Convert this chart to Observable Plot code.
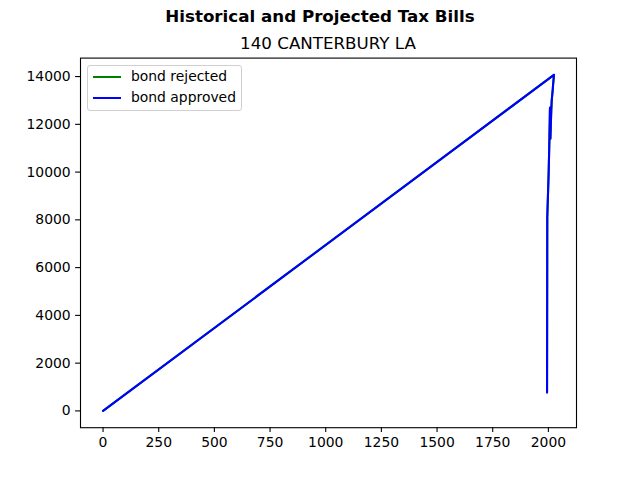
<!DOCTYPE html>
<html>
<head>
<meta charset="utf-8">
<script src="https://cdn.jsdelivr.net/npm/d3@7"></script>
<script src="https://cdn.jsdelivr.net/npm/@observablehq/plot@0.6"></script>
<style>
  html, body { margin: 0; padding: 0; background: #fff; }
  #wrap { position: relative; width: 640px; height: 480px; font-family: "DejaVu Sans", sans-serif; }
  #head { position: relative; width: 640px; height: 50px; }
  .sup { position: absolute; left: 0; width: 640px; top: 6px; text-align: center; font-weight: bold; font-size: 16.7px; line-height: 20px; }
  .sub { position: absolute; left: 80px; width: 496px; top: 33px; text-align: center; font-size: 16.7px; line-height: 20px; }
  #legend { position: absolute; left: 87px; top: 65px; width: 155px; height: 46px; border: 1px solid #d0d0d0; border-radius: 3px; background: rgba(255,255,255,0.8); box-sizing: border-box; font-size: 13.9px; }
  .row { position: absolute; left: 0; height: 18px; line-height: 18px; }
  .sw { position: absolute; left: 5px; top: 9px; width: 28px; height: 2px; }
  .lab { position: absolute; left: 43px; top: 0; white-space: nowrap; }
  svg { display: block; }
</style>
</head>
<body>
<div id="wrap">
  <div id="head">
    <div class="sup">Historical and Projected Tax Bills</div>
    <div class="sub">140 CANTERBURY LA</div>
  </div>
  <div id="chart"></div>
  <div id="legend">
    <div class="row" style="top:1px"><div class="sw" style="background:green"></div><div class="lab">bond rejected</div></div>
    <div class="row" style="top:22px"><div class="sw" style="background:blue"></div><div class="lab">bond approved</div></div>
  </div>
</div>
<script>
// Tax years (the series ends with a trailing 0 entry, as in the source)
const years = [1994, 1995, 1996, 1997, 1998, 1999, 2000, 2001, 2002, 2003, 2004, 2005, 2006, 2007, 2008, 2009,
  2010, 2011, 2012, 2013, 2014, 2015, 2016, 2017, 2018, 2019, 2020, 2021, 2022, 2023, 2024, 2025, 0];
const billsBondRejected = [770, 8100, 8400, 8700, 9000, 9300, 9600, 9900, 10300, 10700, 11100, 11600, 12100, 12650, 12700, 11400,
  11700, 12000, 12300, 12600, 12800, 13000, 13100, 13200, 13300, 13400, 13500, 13650, 13750, 13850, 13950, 14070, 0];
const billsBondApproved = [770, 8100, 8400, 8700, 9000, 9300, 9600, 9900, 10300, 10700, 11100, 11600, 12100, 12650, 12700, 11400,
  11700, 12000, 12300, 12600, 12800, 13000, 13100, 13200, 13300, 13400, 13500, 13650, 13750, 13850, 13950, 14070, 0];
const xTicks = [0, 250, 500, 750, 1000, 1250, 1500, 1750, 2000];
const yTicks = [0, 2000, 4000, 6000, 8000, 10000, 12000, 14000];

const rejected = years.map((y, i) => ({year: y, bill: billsBondRejected[i]}));
const approved = years.map((y, i) => ({year: y, bill: billsBondApproved[i]}));

const xmin = d3.min(years), xmax = d3.max(years);
const allY = billsBondRejected.concat(billsBondApproved);
const ymin = d3.min(allY), ymax = d3.max(allY);
const xpad = (xmax - xmin) * 0.05, ypad = (ymax - ymin) * 0.05;

const chart = Plot.plot({
  width: 640,
  height: 430,
  marginLeft: 80,
  marginRight: 64,
  marginTop: 7.6,
  marginBottom: 52.8,
  style: {fontFamily: "DejaVu Sans, sans-serif", fontSize: "13.9px", color: "black", background: "white"},
  x: {domain: [xmin - xpad, xmax + xpad]},
  y: {domain: [ymin - ypad, ymax + ypad]},
  marks: [
    Plot.line(rejected, {x: "year", y: "bill", stroke: "green", strokeWidth: 2.08}),
    Plot.line(approved, {x: "year", y: "bill", stroke: "blue", strokeWidth: 2.08}),
    Plot.axisX({ticks: xTicks, tickSize: 4.9, tickPadding: 4.9, label: null, tickFormat: d => String(d), fontSize: 13.9, stroke: "black", strokeWidth: 1.1}),
    Plot.axisY({ticks: yTicks, tickSize: 4.9, tickPadding: 4.9, label: null, tickFormat: d => String(d), fontSize: 13.9, stroke: "black", strokeWidth: 1.1}),
    Plot.frame({stroke: "black", strokeWidth: 1.1})
  ]
});
document.getElementById("chart").appendChild(chart);
</script>
</body>
</html>
